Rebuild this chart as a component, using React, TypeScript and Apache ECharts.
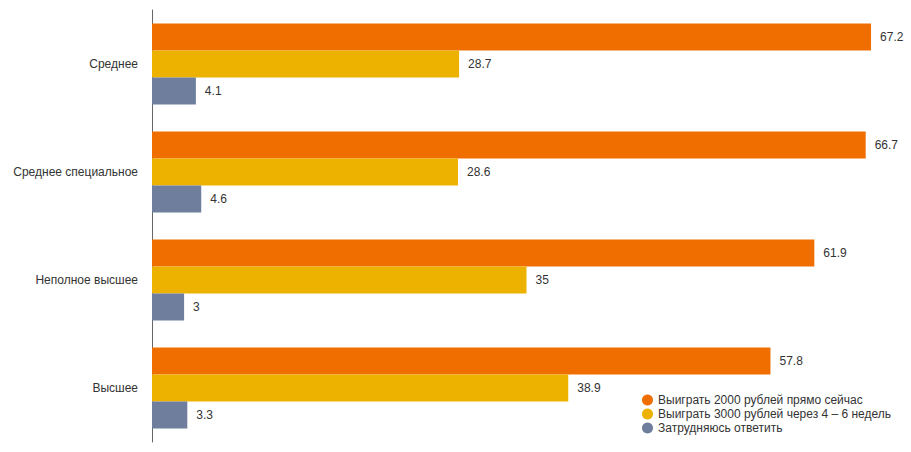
import React, { useEffect, useRef } from "react";
import * as echarts from "echarts";

const categories = ["Среднее", "Среднее специальное", "Неполное высшее", "Высшее"];
const seriesNames = [
  "Выиграть 2000 рублей прямо сейчас",
  "Выиграть 3000 рублей через 4 – 6 недель",
  "Затрудняюсь ответить",
];
const nowValues = [67.2, 66.7, 61.9, 57.8];
const laterValues = [28.7, 28.6, 35, 38.9];
const unsureValues = [4.1, 4.6, 3, 3.3];
const colors = ["#F06E00", "#EDB200", "#6F7E9C"];

export default function App() {
  const ref = useRef<HTMLDivElement>(null);
  useEffect(() => {
    document.body.style.margin = "0";
    if (!ref.current) return;
    const chart = echarts.init(ref.current, null, { renderer: "svg" });
    const data = [nowValues, laterValues, unsureValues];
    chart.setOption({
      animation: false,
      textStyle: { fontFamily: "Liberation Sans, Arial, sans-serif" },
      grid: { left: 152, right: 10, top: 10, bottom: 10, containLabel: false },
      xAxis: { type: "value", min: 0, max: 70, show: false },
      yAxis: {
        type: "category",
        data: categories,
        inverse: true,
        axisLine: { show: true, lineStyle: { color: "#666", width: 1 } },
        axisTick: { show: false },
        axisLabel: { color: "#333", fontSize: 12, margin: 14 },
      },
      legend: {
        orient: "vertical",
        left: 637,
        top: 389,
        icon: "circle",
        itemWidth: 11,
        itemHeight: 11,
        itemGap: 2,
        textStyle: { color: "#333", fontSize: 12 },
        data: seriesNames,
      },
      series: seriesNames.map((name, i) => ({
        name,
        type: "bar",
        data: data[i],
        barWidth: 27,
        barGap: "0%",
        barCategoryGap: "25%",
        itemStyle: { color: colors[i] },
        label: {
          show: true,
          position: "right",
          distance: 9,
          color: "#333",
          fontSize: 12,
        },
      })),
    });
    return () => chart.dispose();
  }, []);
  return <div ref={ref} style={{ width: 911, height: 452 }} />;
}
